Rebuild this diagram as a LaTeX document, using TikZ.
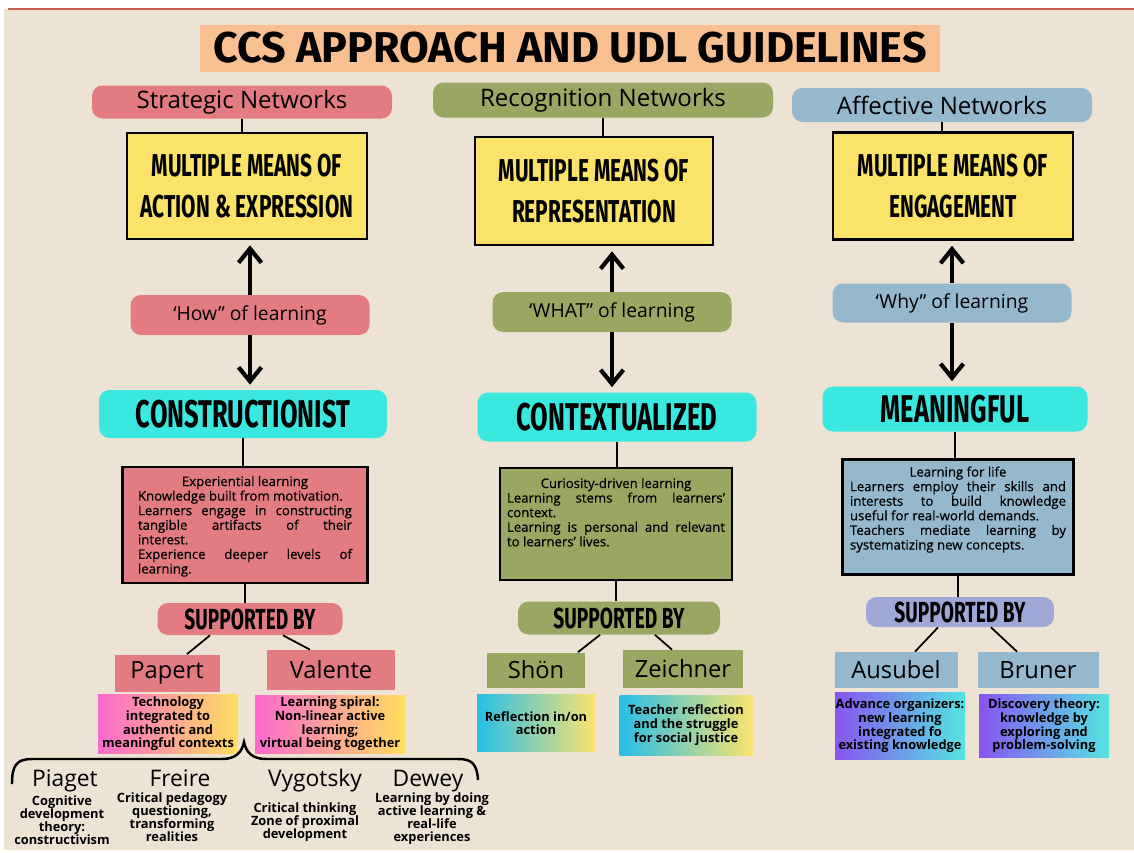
\documentclass[tikz,border=0pt]{standalone}
\usepackage{fontspec}
\setmainfont{Open Sans}
\newfontfamily\titlefont{Fira Sans}
\newfontfamily\markerfont[FakeStretch=0.66]{Fira Sans}
\newfontfamily\notefont[FakeBold=0.5]{Open Sans}
\usepackage{xcolor}
\usepackage{tikz}
\usetikzlibrary{arrows.meta}

\newlength\pxu
\setlength\pxu{0.02cm} % one unit of the layout grid

\definecolor{paper}{RGB}{237,227,213}
\definecolor{peach}{RGB}{248,192,145}
\definecolor{rose}{RGB}{226,124,130}
\definecolor{olive}{RGB}{153,167,98}
\definecolor{steel}{RGB}{150,184,205}
\definecolor{aqua}{RGB}{58,232,224}
\definecolor{lemon}{RGB}{251,226,104}
\definecolor{lavender}{RGB}{160,168,216}
\definecolor{topRule}{RGB}{200,95,80}
\definecolor{magenta}{RGB}{250,105,205}
\definecolor{sand}{RGB}{255,222,95}
\definecolor{sky}{RGB}{40,190,232}
\definecolor{butter}{RGB}{250,228,110}
\definecolor{violet}{RGB}{135,85,240}
\definecolor{mint}{RGB}{85,228,225}

\tikzset{
pill/.style = {rectangle, rounded corners=6pt, fill=#1, inner sep=0pt},
pill/.default = rose
}
\tikzset{
netLabel/.style = {pill=#1, minimum width=300\pxu, minimum height=33\pxu,
                   text=black, font=\fontsize{13.7}{15}\selectfont},
whyLabel/.style = {pill=#1, minimum width=239\pxu, minimum height=40\pxu,
                   font=\fontsize{11}{13}\selectfont},
keyPill/.style = {pill=aqua, minimum height=48\pxu,
                  font=\markerfont\bfseries\fontsize{22}{26}\selectfont},
supPill/.style = {pill=#1, minimum height=32\pxu,
                  font=\markerfont\bfseries\fontsize{16.5}{18}\selectfont}
}
\tikzset{
meansBox/.style = {rectangle, draw=black, line width=1.5pt, fill=lemon,
                   minimum width=240\pxu, minimum height=106\pxu, align=center,
                   font=\markerfont\bfseries\fontsize{18}{23}\selectfont},
descBox/.style = {rectangle, draw=black, line width=1.2pt, fill=#1, inner sep=0pt,
                  font=\notefont\fontsize{7.5}{8.3}\selectfont},
nameBox/.style = {rectangle, fill=#1, inner sep=0pt,
                  font=\fontsize{13.5}{15}\selectfont},
noteBox/.style 2 args = {rectangle, left color=#1, right color=#2, inner sep=0pt,
                  align=center, font=\bfseries\fontsize{7.3}{7.8}\selectfont}
}
\tikzset{
thinker/.style = {inner sep=0pt, anchor=base, font=\fontsize{13}{15}\selectfont},
thinkerNote/.style = {inner sep=0pt, anchor=north, align=center,
                      font=\bfseries\fontsize{7.3}{7.5}\selectfont},
bigArrow/.style = {line width=2.4pt, -{Straight Barb[length=8pt, width=13pt]},
                   shorten >=5\pxu},
link/.style = {line width=1pt}
}

% fixed-height text block, top aligned
\newcommand{\topText}[3]{\parbox[c][#1\pxu][t]{#2\pxu}{#3}}

\begin{document}
\begin{tikzpicture}[x=\pxu, y=-\pxu]
\useasboundingbox (0,0) rectangle (1134,853);
\fill[white] (0,0) rectangle (1134,853);
\fill[paper] (4,9) rectangle (1134,850);
\draw[topRule, line width=1pt] (8,9) -- (1134,9);

\node[fill=peach, minimum width=740\pxu, minimum height=47\pxu,
      font=\titlefont\bfseries\fontsize{24.5}{26}\selectfont] (title) at (570,48)
      {CCS APPROACH AND UDL GUIDELINES};

% strategic column
\node[netLabel=rose] (stratNet) at (242,102) {Strategic Networks};
\node[meansBox] (actionBox) at (247,186) {MULTIPLE MEANS OF\\ACTION \& EXPRESSION};
\node[whyLabel=rose] (howPill) at (250,315) {‘How” of learning};
\node[keyPill, minimum width=288\pxu] (constrPill) at (243,414) {CONSTRUCTIONIST};
\node[descBox=rose, minimum width=245\pxu, minimum height=116\pxu] (constrDesc) at (245,525)
  {\topText{98}{214}{{\centering Experiential learning\par}
   Knowledge built from motivation.\par
   Learners engage in constructing\linebreak tangible artifacts of their\linebreak interest.\par
   Experience deeper levels of\linebreak learning.}};
\node[supPill=rose, minimum width=185\pxu] (supA) at (250,619) {SUPPORTED BY};
\node[nameBox=rose, minimum width=105\pxu, minimum height=37\pxu] (papert) at (167,673) {Papert};
\node[nameBox=rose, minimum width=128\pxu, minimum height=40\pxu] (valente) at (331,670) {Valente};
\node[noteBox={magenta}{sand}, minimum width=140\pxu, minimum height=59\pxu] (papertNote) at (168,724)
  {Technology\\integrated to\\authentic and\\meaningful contexts};
\node[noteBox={magenta}{sand}, minimum width=150\pxu, minimum height=58\pxu] (valenteNote) at (330,724)
  {Learning spiral:\\Non-linear active\\learning;\\virtual being together};

% recognition column
\node[netLabel=olive, minimum width=340\pxu, minimum height=35\pxu] (recogNet) at (603,100) {Recognition Networks};
\node[meansBox, minimum width=238\pxu, minimum height=108\pxu] (reprBox) at (594,191) {MULTIPLE MEANS OF\\REPRESENTATION};
\node[whyLabel=olive] (whatPill) at (612,312) {‘WHAT” of learning};
\node[keyPill, minimum width=279\pxu, minimum height=49\pxu] (contextPill) at (617,417) {CONTEXTUALIZED};
\node[descBox=olive, minimum width=232\pxu, minimum height=112\pxu] (contextDesc) at (616,524)
  {\topText{92}{218}{{\centering Curiosity-driven learning\par}
   Learning stems from learners’\linebreak context.\par
   Learning is personal and relevant\linebreak to learners’ lives.}};
\node[supPill=olive, minimum width=202\pxu, minimum height=33\pxu] (supB) at (619,618) {SUPPORTED BY};
\node[nameBox=olive, minimum width=98\pxu, minimum height=35\pxu] (shon) at (536,670) {Shön};
\node[nameBox=olive, minimum width=120\pxu, minimum height=38\pxu] (zeichner) at (683,669) {Zeichner};
\node[noteBox={sky}{butter}, minimum width=118\pxu, minimum height=57\pxu] (shonNote) at (536,723)
  {Reflection in/on\\action};
\node[noteBox={sky}{butter}, minimum width=133\pxu, minimum height=60\pxu] (zeichnerNote) at (686,725)
  {Teacher reflection\\and the struggle\\for social justice};

% affective column
\node[netLabel=steel, minimum height=34\pxu] (affectNet) at (942,105) {Affective Networks};
\node[meansBox, minimum height=107\pxu] (engageBox) at (953,186) {MULTIPLE MEANS OF\\ENGAGEMENT};
\node[whyLabel=steel, minimum height=39\pxu] (whyPill) at (952,303) {‘Why” of learning};
\node[keyPill, minimum width=265\pxu, minimum height=45\pxu] (meaningPill) at (955,409) {MEANINGFUL};
\node[descBox=steel, minimum width=231\pxu, minimum height=115\pxu] (meaningDesc) at (958,517)
  {\topText{101}{216}{{\centering Learning for life\par}
   Learners employ their skills and\linebreak interests to build knowledge\linebreak useful for real-world demands.\par
   Teachers mediate learning by\linebreak systematizing new concepts.}};
\node[supPill=lavender, minimum width=188\pxu, minimum height=30\pxu] (supC) at (960,612) {SUPPORTED BY};
\node[nameBox=steel, minimum width=123\pxu, minimum height=36\pxu] (ausubel) at (896,670) {Ausubel};
\node[nameBox=steel, minimum width=121\pxu, minimum height=36\pxu] (bruner) at (1038,670) {Bruner};
\node[noteBox={violet}{mint}, minimum width=130\pxu, minimum height=67\pxu] (ausubelNote) at (900,726)
  {Advance organizers:\\new learning\\integrated fo\\existing knowledge};
\node[noteBox={violet}{mint}, minimum width=130\pxu, minimum height=63\pxu] (brunerNote) at (1044,726)
  {Discovery theory:\\knowledge by\\exploring and\\problem-solving};

% thinkers under the brace
\node[thinker] (piaget) at (65,786) {Piaget};
\node[thinker] (freire) at (180,786) {Freire};
\node[thinker] (vygotsky) at (315,786) {Vygotsky};
\node[thinker] (dewey) at (428,786) {Dewey};
\node[thinkerNote] (piagetNote) at (62,795) {Cognitive\\development\\theory:\\constructivism};
\node[thinkerNote] (freireNote) at (172,792) {Critical pedagogy\\questioning,\\transforming\\realities};
\node[thinkerNote] (vygotskyNote) at (305,802) {Critical thinking\\Zone of proximal\\development};
\node[thinkerNote] (deweyNote) at (432,792) {Learning by doing\\active learning \&\\real-life\\experiences};

% connectors
\draw[link] (stratNet.south) -- (stratNet.south |- actionBox.north);
\draw[link] (recogNet.south) -- (recogNet.south |- reprBox.north);
\draw[link] (affectNet.south) -- (affectNet.south |- engageBox.north);
\draw[bigArrow] (howPill.north) -- (howPill.north |- actionBox.south);
\draw[bigArrow] (howPill.south) -- (howPill.south |- constrPill.north);
\draw[bigArrow] (whatPill.north) -- (whatPill.north |- reprBox.south);
\draw[bigArrow] (whatPill.south) -- (whatPill.south |- contextPill.north);
\draw[bigArrow] (whyPill.north) -- (whyPill.north |- engageBox.south);
\draw[bigArrow] (whyPill.south) -- (whyPill.south |- meaningPill.north);
\draw[link] (constrPill.south) -- (constrPill.south |- constrDesc.north);
\draw[link] (contextPill.south) -- (contextPill.south |- contextDesc.north);
\draw[link] (meaningPill.south) -- (meaningPill.south |- meaningDesc.north);
\draw[link] (constrDesc.south) -- (constrDesc.south |- supA.north);
\draw[link] (contextDesc.south) -- (contextDesc.south |- supB.north);
\draw[link] (meaningDesc.south) -- (meaningDesc.south |- supC.north);
\draw[link] ([shift={(-40,0)}]supA.south) -- ([shift={(20,0)}]papert.north);
\draw[link] ([shift={(33,0)}]supA.south) -- ([shift={(-21,0)}]valente.north);
\draw[link] ([shift={(-19,0)}]supB.south) -- ([shift={(42,0)}]shon.north);
\draw[link] ([shift={(36,0)}]supB.south) -- ([shift={(-11,0)}]zeichner.north);
\draw[link] ([shift={(-22,0)}]supC.south) -- ([shift={(19,0)}]ausubel.north);
\draw[link] ([shift={(31,0)}]supC.south) -- ([shift={(-21,0)}]bruner.north);

% brace over the thinkers
\draw[line width=1.4pt] (12,784) .. controls (12,766) and (16,759) .. (32,759) -- (222,759)
  .. controls (236,759) and (242,752) .. (244,742)
  .. controls (246,752) and (252,759) .. (266,759) -- (458,759)
  .. controls (472,759) and (477,764) .. (478,780);
\end{tikzpicture}
\end{document}
